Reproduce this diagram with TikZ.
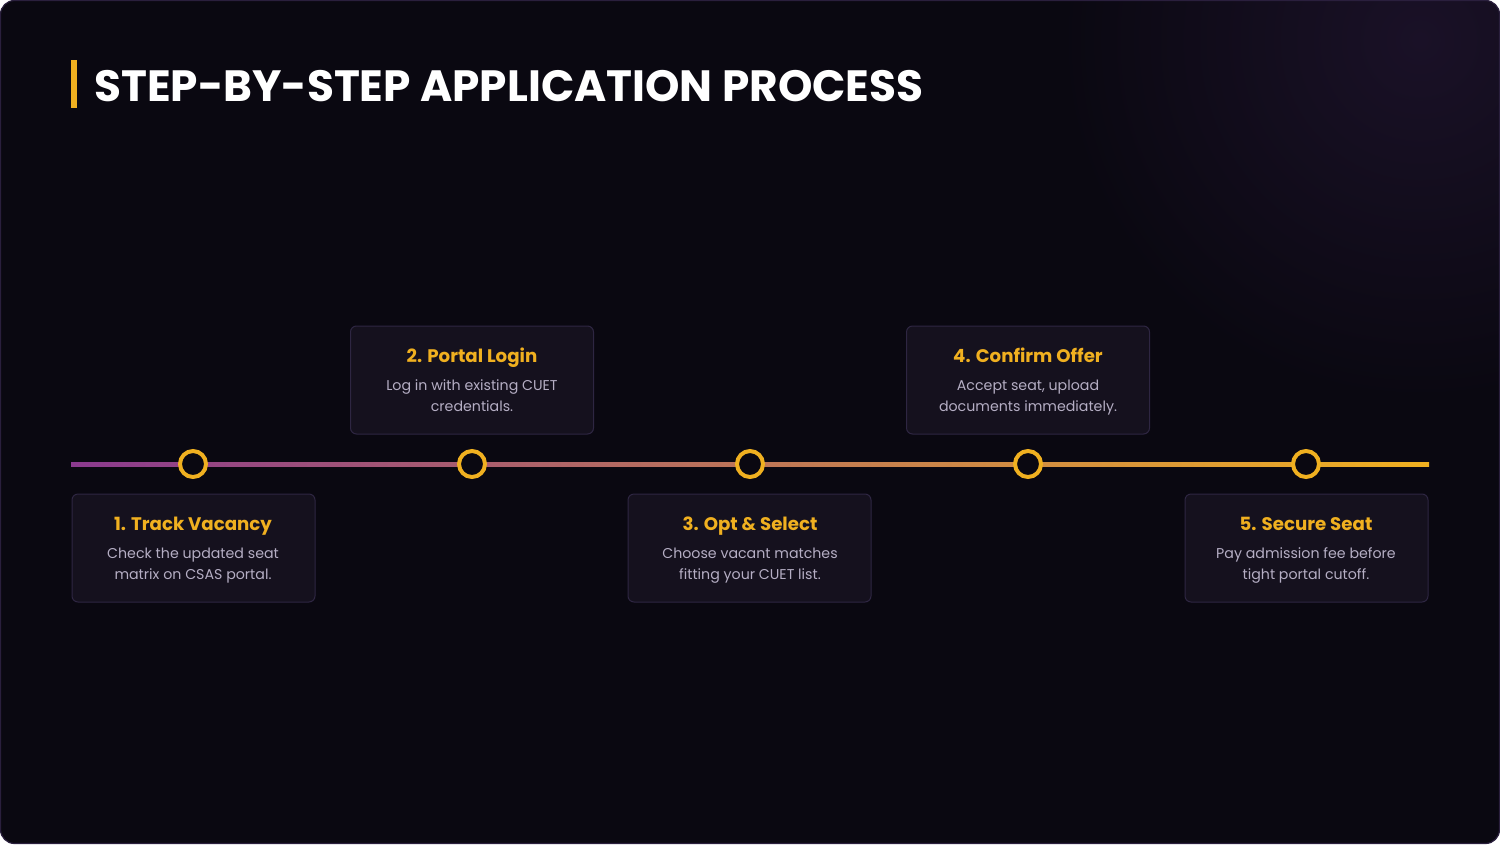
\documentclass[tikz,border=0pt]{standalone}
\usepackage{fontspec}
\setmainfont{Poppins}
\definecolor{pagebg}{HTML}{0A0811}
\definecolor{pageedge}{HTML}{2A1F3D}
\definecolor{glow}{HTML}{1A1127}
\definecolor{boxfill}{HTML}{15111E}
\definecolor{boxedge}{HTML}{2E2642}
\definecolor{gold}{HTML}{F0B020}
\definecolor{purp}{HTML}{8B3A8F}
\definecolor{bodytxt}{HTML}{B5AEC4}
\begin{document}
\begin{tikzpicture}[x=1pt,y=-1pt,
  stepbox/.style={draw=boxedge,line width=1pt,fill=boxfill,rounded corners=6pt,minimum width=243pt,minimum height=108pt,inner sep=0pt},
  headtxt/.style={text=gold,font=\fontsize{18.2}{22}\selectfont\bfseries,anchor=base,inner sep=0pt},
  bodytext/.style={text=bodytxt,font=\fontsize{14.2}{21}\selectfont,align=center,anchor=base,inner sep=0pt},
  dot/.style={circle,draw=gold,line width=4pt,fill=pagebg,minimum size=26pt,inner sep=0pt}]
\useasboundingbox (0,0) rectangle (1500,844);
\fill[white] (0,0) rectangle (1500,844);
\fill[pagebg,rounded corners=14pt] (0.5,0.5) rectangle (1499.5,843.5);
\begin{scope}
  \clip[rounded corners=14pt] (0.5,0.5) rectangle (1499.5,843.5);
  \shade[inner color=glow,outer color=pagebg] (1420,40) circle (360);
\end{scope}
\draw[pageedge,line width=1.2pt,rounded corners=14pt] (0.5,0.5) rectangle (1499.5,843.5);
% title
\fill[gold] (71,60) rectangle (77,108);
\node[anchor=base west,text=white,font=\fontsize{43.8}{48}\selectfont\bfseries,inner sep=0pt] (title) at (94,101) {STEP-BY-STEP APPLICATION PROCESS};
% timeline
\coordinate (tlstart) at (71,464);
\coordinate (tlend) at (1429,464);
\shade[left color=purp,right color=gold] (71,462) rectangle (1429,466);
% dots
\foreach \i/\x in {1/193,2/472,3/750,4/1028,5/1306}{
  \node[dot] (c\i) at (\x,464) {};
}
% boxes
\node[stepbox] (b1) at (193.5,548) {};
\node[stepbox] (b2) at (472,380) {};
\node[stepbox] (b3) at (749.5,548) {};
\node[stepbox] (b4) at (1028,380) {};
\node[stepbox] (b5) at (1306.5,548) {};
\node[headtxt] (h1) at (193,530) {1. Track Vacancy};
\node[bodytext] (t1) at (193,579) {Check the updated seat\\matrix on CSAS portal.};
\node[headtxt] (h2) at (472,362) {2. Portal Login};
\node[bodytext] (t2) at (472,411) {Log in with existing CUET\\credentials.};
\node[headtxt] (h3) at (750,530) {3. Opt \& Select};
\node[bodytext] (t3) at (750,579) {Choose vacant matches\\fitting your CUET list.};
\node[headtxt] (h4) at (1028,362) {4. Confirm Offer};
\node[bodytext] (t4) at (1028,411) {Accept seat, upload\\documents immediately.};
\node[headtxt] (h5) at (1306,530) {5. Secure Seat};
\node[bodytext] (t5) at (1306,579) {Pay admission fee before\\tight portal cutoff.};
\end{tikzpicture}
\end{document}
